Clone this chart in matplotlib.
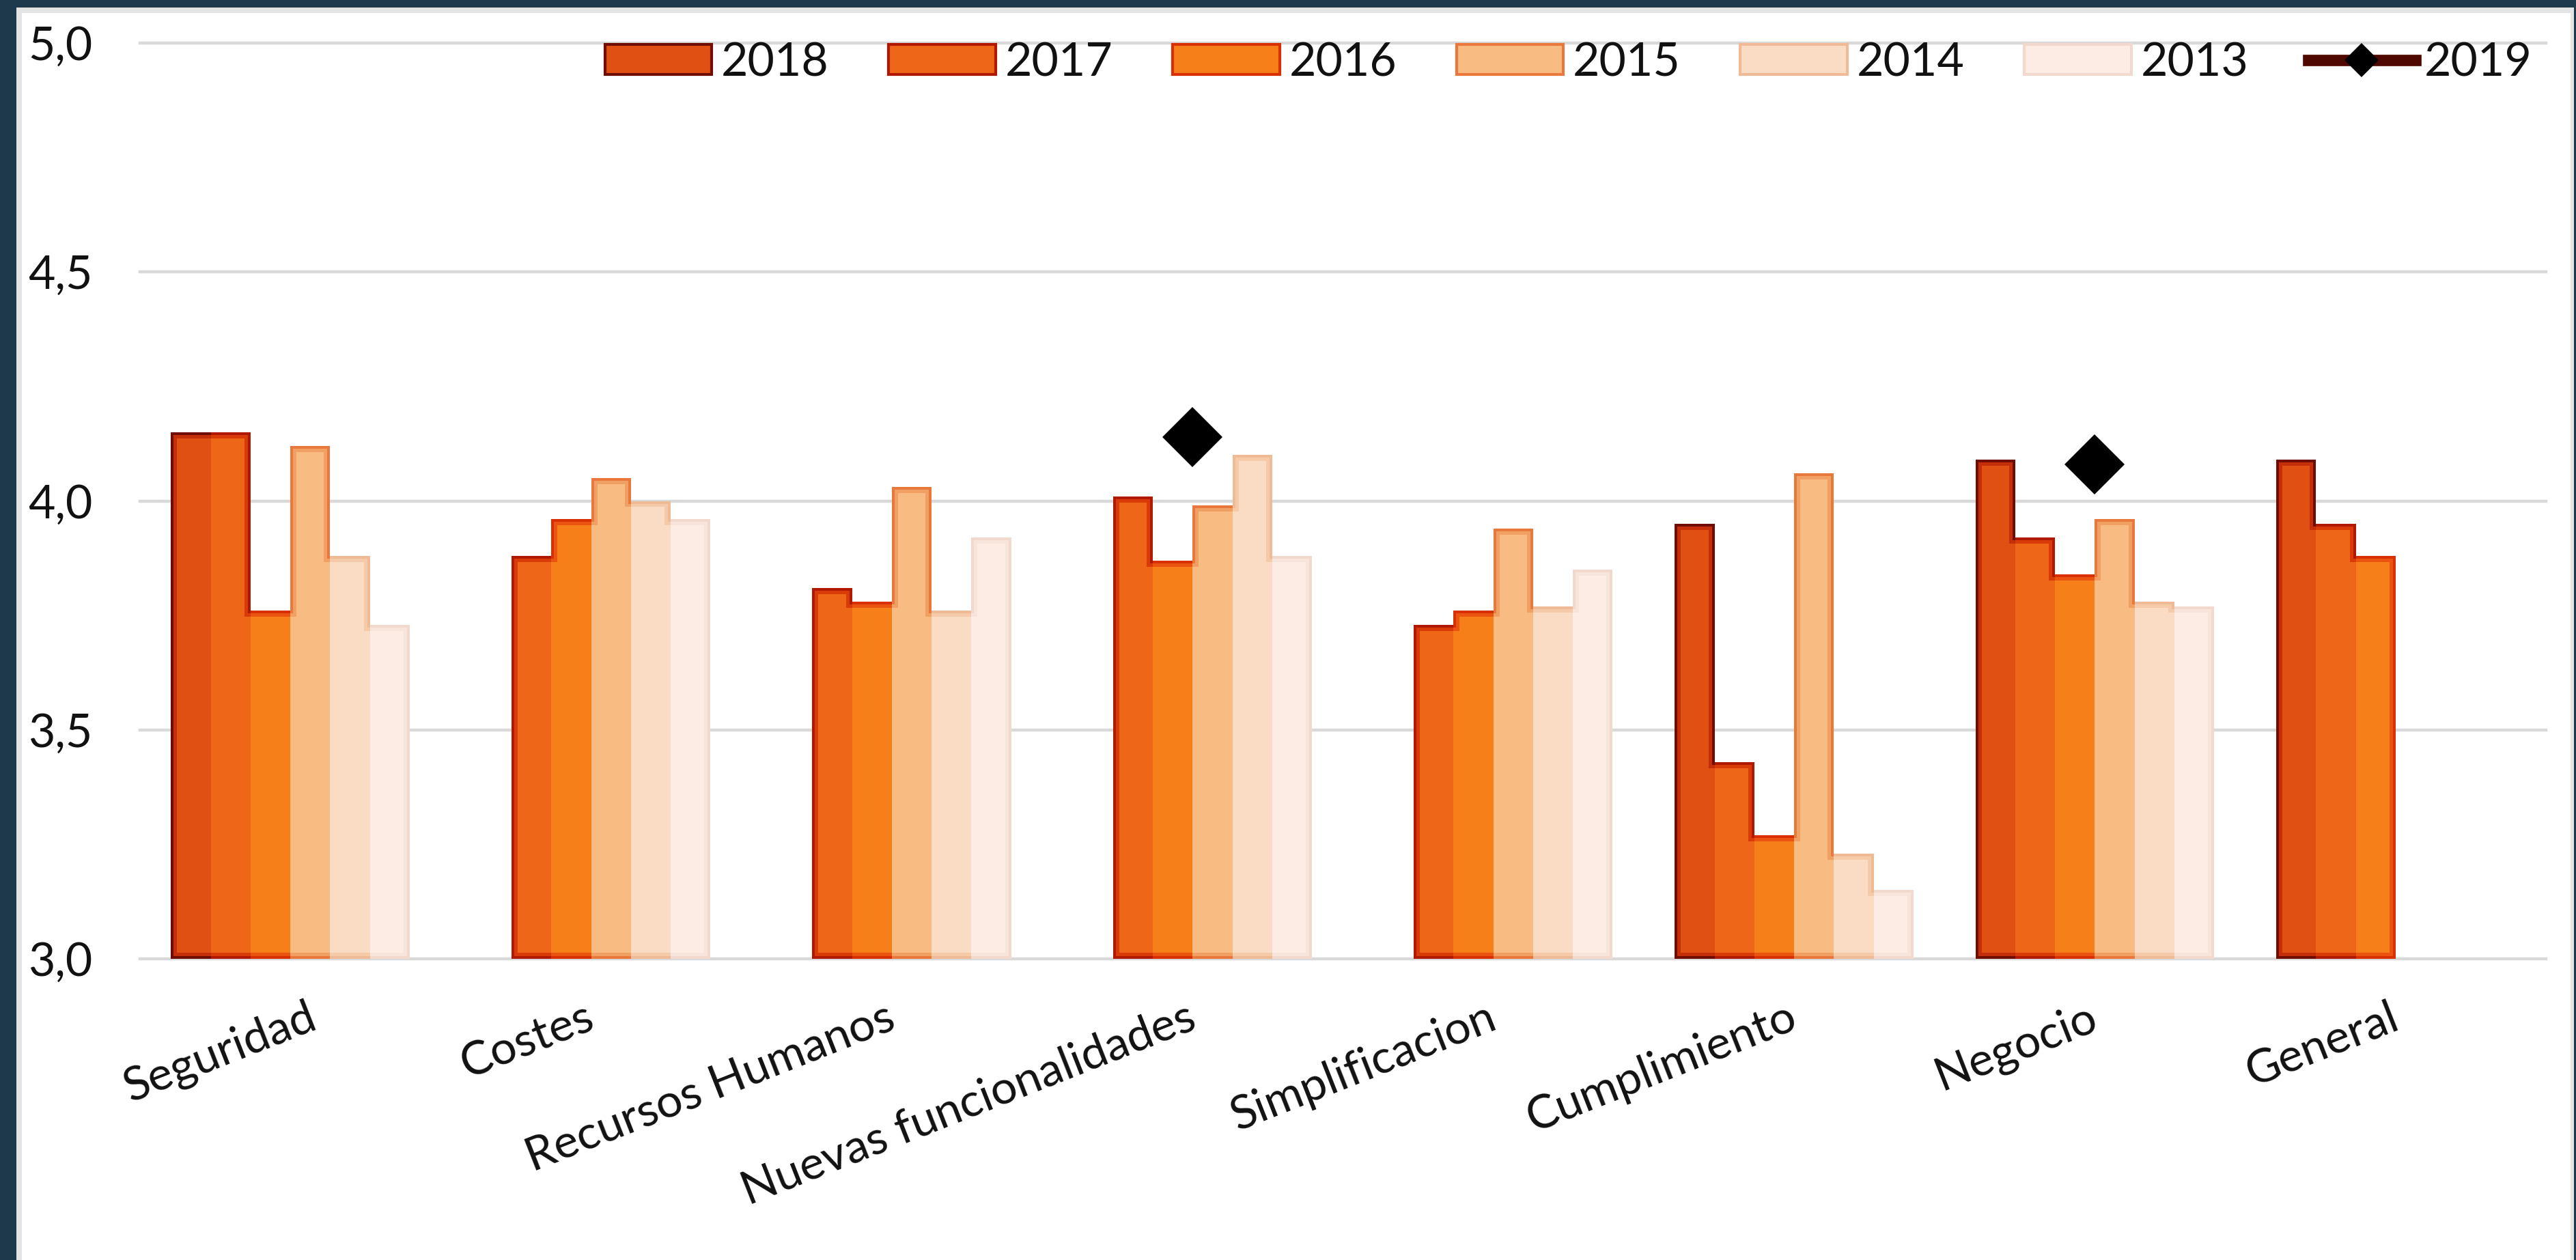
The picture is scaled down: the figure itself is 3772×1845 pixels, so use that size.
import numpy as np
import matplotlib
matplotlib.use("Agg")
import matplotlib.pyplot as plt
from matplotlib.patches import Patch, Rectangle
from matplotlib.lines import Line2D
import matplotlib.transforms as mtransforms

# ---------------- data ----------------
categories = ["Seguridad", "Costes", "Recursos Humanos", "Nuevas funcionalidades",
              "Simplificacion", "Cumplimiento", "Negocio", "General"]
nan = np.nan
v2018 = [4.15, nan, nan, nan, nan, 3.95, 4.09, 4.09]
v2017 = [4.15, 3.88, 3.81, 4.01, 3.73, 3.43, 3.92, 3.95]
v2016 = [3.76, 3.96, 3.78, 3.87, 3.76, 3.27, 3.84, 3.88]
v2015 = [4.12, 4.05, 4.03, 3.99, 3.94, 4.06, 3.96, nan]
v2014 = [3.88, 4.00, 3.76, 4.10, 3.77, 3.23, 3.78, nan]
v2013 = [3.73, 3.96, 3.92, 3.88, 3.85, 3.15, 3.77, nan]
v2019 = [nan, nan, nan, 4.14, nan, nan, 4.08, nan]
bar_series = ["2018", "2017", "2016", "2015", "2014", "2013"]
line_series = "2019"
ytick_values = [3.0, 3.5, 4.0, 4.5, 5.0]
ytick_labels = ["3,0", "3,5", "4,0", "4,5", "5,0"]

# ---------------- style ----------------
W, H, DPI = 3773, 1845, 100
FONT = ["Lato", "DejaVu Sans"]
plt.rcParams["font.family"] = FONT
FS = 49
# (outer, mid, fill) per series
palette = [
    ("#6e0d00", "#c42e08", "#e05012"),
    ("#b01800", "#d83a08", "#ee6617"),
    ("#d83000", "#ea5410", "#f77f1a"),
    ("#e8783c", "#f0a062", "#f8bc83"),
    ("#efbb97", "#f5caa9", "#fadcc4"),
    ("#f1d9cd", "#f7e4da", "#fcece3"),
]
NAVY = "#1d394b"
EDGE_GRAY = "#e4e4e4"
GRID = "#d9d9d9"
TXT = "#111111"

fig = plt.figure(figsize=(W / DPI, H / DPI), dpi=DPI, facecolor="white")

# outer frame
def fig_rect(x0, y0, x1, y1, color):
    fig.patches.append(Rectangle((x0 / W, 1 - y1 / H), (x1 - x0) / W, (y1 - y0) / H,
                                 transform=fig.transFigure, facecolor=color,
                                 edgecolor="none", zorder=0))
fig_rect(0, 0, 24, H, NAVY)
fig_rect(0, 0, W, 11, NAVY)
fig_rect(3769, 0, W, H, NAVY)
fig_rect(24, 11, 32, H, EDGE_GRAY)
fig_rect(24, 11, 3769, 19, EDGE_GRAY)
fig_rect(3764, 11, 3769, H, EDGE_GRAY)

ax_left, ax_right, ax_top, ax_bottom = 205, 3728, 63, 1404
ax = fig.add_axes([ax_left / W, 1 - ax_bottom / H, (ax_right - ax_left) / W,
                   (ax_bottom - ax_top) / H])
ax.set_facecolor("none")
ax.set_xlim(-0.5, len(categories) - 0.5)
ax.set_ylim(3.0, 5.0)
for s in ax.spines.values():
    s.set_visible(False)

px_x = len(categories) / (ax_right - ax_left)
px_y = 2.0 / (ax_bottom - ax_top)
bar_w = 58.25 * px_x

all_vals = [v2018, v2017, v2016, v2015, v2014, v2013]
x = np.arange(len(categories))
base = ytick_values[0]

layers = [(0, 0), (4, 1), (9, 2)]
for inset, li in layers:
    dx, dy = inset * px_x, inset * px_y
    for k, vals in enumerate(all_vals):
        col = palette[k][li]
        for i, v in enumerate(vals):
            if np.isnan(v):
                continue
            left = x[i] - 3 * bar_w + k * bar_w
            ax.bar(left + dx, v - base - 2 * dy, bottom=base + dy, width=bar_w - 2 * dx,
                   align="edge", color=col, linewidth=0, antialiased=False, zorder=3 + li)
            if inset == 0:
                continue
            if k > 0 and not np.isnan(all_vals[k - 1][i]):
                h = min(v, all_vals[k - 1][i])
                ax.bar(left, h - base - 2 * dy, bottom=base + dy, width=dx, align="edge",
                       color=col, linewidth=0, antialiased=False, zorder=3 + li)
            if k < len(all_vals) - 1 and not np.isnan(all_vals[k + 1][i]):
                h = min(v, all_vals[k + 1][i])
                ax.bar(left + bar_w - dx, h - base - 2 * dy, bottom=base + dy, width=dx,
                       align="edge", color=col, linewidth=0, antialiased=False, zorder=3 + li)

# 2019 series (line with markers; gaps break the line)
ax.plot(x, v2019, color="#4e0800", lw=12, marker="D", ms=45, mfc="black", mec="black",
        mew=0, zorder=10)

# grid
ax.set_yticks(ytick_values)
ax.set_yticklabels(ytick_labels)
ax.yaxis.grid(True, color=GRID, linewidth=3.2, zorder=0)
for gl in ax.get_ygridlines():
    gl.set_clip_on(False)
ax.set_axisbelow(True)
ax.tick_params(axis="y", length=0, pad=50, labelsize=FS, labelcolor=TXT)
ax.tick_params(axis="x", length=0, pad=39, labelsize=FS, labelcolor=TXT)
ax.set_xticks(x)
ax.set_xticklabels(categories, rotation=21.5, ha="right", rotation_mode="anchor")
for i, lbl in enumerate(ax.get_xticklabels()):
    off = -10 / DPI
    if i == 0:
        off = 24 / DPI
    lbl.set_transform(lbl.get_transform() + mtransforms.ScaledTranslation(off, 0, fig.dpi_scale_trans))

# legend
handles = [Patch(facecolor=palette[k][2], edgecolor=palette[k][0], linewidth=3) for k in range(6)]
handles.append(Line2D([], [], color="#4e0800", lw=12, marker="D", ms=25, mfc="black",
                      mec="black", mew=0))
labels = bar_series + [line_series]
leg = fig.legend(handles, labels, loc="center right",
                 bbox_to_anchor=(3708 / W, 1 - 92 / H), bbox_transform=fig.transFigure,
                 ncol=7, frameon=False, fontsize=FS, borderpad=0, borderaxespad=0,
                 handlelength=2.3, handleheight=0.6, handletextpad=0.2, columnspacing=1.29)
for t in leg.get_texts():
    t.set_color(TXT)

fig.savefig("out.png", dpi=DPI, facecolor="white")
